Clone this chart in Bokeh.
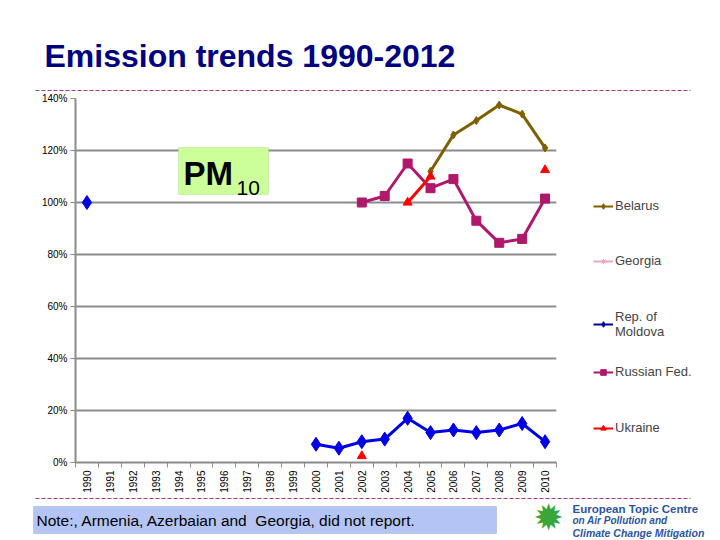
from math import pi

from bokeh.embed import file_html
from bokeh.layouts import column, row
from bokeh.models import (BoxAnnotation, FixedTicker, Label, Legend, LegendItem,
                          PrintfTickFormatter, Range1d)
from bokeh.plotting import figure
from bokeh.resources import INLINE

N = float("nan")

years = [1990, 1991, 1992, 1993, 1994, 1995, 1996, 1997, 1998, 1999,
         2000, 2001, 2002, 2003, 2004, 2005, 2006, 2007, 2008, 2009, 2010]

# emissions relative to the first reported year, in %
belarus = [N, N, N, N, N, N, N, N, N, N, N, N, N, N, N, 112, 126, 131.5, 137.5, 134, 121]
georgia = [N, N, N, N, N, N, N, N, N, N, N, N, N, N, N, N, N, N, N, N, N]
moldova = [100, N, N, N, N, N, N, N, N, N, 7, 5.5, 8, 9, 17, 11.5, 12.5, 11.5, 12.5, 15, 8]
russia = [N, N, N, N, N, N, N, N, N, N, N, N, 100, 102.5, 115, 105.5, 109, 93, 84.5, 86, 101.5]
ukraine = [N, N, N, N, N, N, N, N, N, N, N, N, 2.5, N, 100, 110, N, N, N, N, 112.5]

y_ticks = [0, 20, 40, 60, 80, 100, 120, 140]

FONT = "Liberation Sans"
GRID = "#8c8c8c"
DASH = "#9b3d8f"


def deco_fig(w, h):
    # plain canvas whose data units are pixels, y growing downwards
    f = figure(width=w, height=h, x_range=Range1d(0, w), y_range=Range1d(h, 0),
               output_backend="svg", toolbar_location=None, min_border=0,
               x_axis_type=None, y_axis_type=None)
    f.outline_line_color = None
    return f


# --- title strip (page y 0..92)
top = deco_fig(712, 92)
top.add_layout(Label(x=44, y=55, text="Emission trends 1990-2012", text_font=FONT,
                     text_font_style="bold", text_font_size="32px", text_color="#000080",
                     text_baseline="middle"))
top.segment(x0=[35], y0=[90], x1=[690], y1=[90], line_color=DASH, line_width=1, line_dash="4 2")

# --- chart (page y 92..495, x 0..560)
p = figure(x_range=Range1d(years[0] - 0.5, years[-1] + 0.5), y_range=Range1d(0, 140),
           width=560, height=403, output_backend="svg", toolbar_location=None,
           min_border_left=75, min_border_right=4, min_border_top=6, min_border_bottom=32)
p.outline_line_color = None
p.xgrid.visible = False
p.ygrid.grid_line_color = GRID
p.ygrid.grid_line_width = 2

p.yaxis.ticker = FixedTicker(ticks=y_ticks)
p.yaxis.formatter = PrintfTickFormatter(format="%d%%")
p.yaxis.minor_tick_line_color = None
# category labels in the middle, tick marks on the boundaries between years
p.xaxis.ticker = FixedTicker(ticks=years, minor_ticks=[y - 0.5 for y in years] + [years[-1] + 0.5])
p.xaxis.major_label_orientation = pi / 2
p.xaxis.major_tick_line_color = None
p.xaxis.minor_tick_line_color = GRID
p.xaxis.minor_tick_in = 0
p.xaxis.minor_tick_out = 5
for ax in (p.xaxis, p.yaxis):
    ax.axis_line_color = GRID
    ax.axis_line_width = 2
    ax.major_tick_in = 0
    ax.major_tick_out = 5
    ax.major_label_text_font = FONT
    ax.major_label_text_font_size = "10px"
    ax.major_label_text_color = "black"
    ax.major_label_standoff = 3
p.yaxis.major_tick_line_color = GRID

series = [
    ("Belarus", belarus, "#7f6000", "diamond", 8),
    ("Georgia", georgia, "#f2a0c4", "asterisk", 8),
    ("Rep. of\nMoldova", moldova, "#0000e6", "diamond", 14),
    ("Russian Fed.", russia, "#b0186b", "square", 9),
    ("Ukraine", ukraine, "#ff0000", "triangle", 9),
]
legend_color = {"Rep. of\nMoldova": "#000099"}

for name, vals, color, marker, size in series:
    p.line(years, vals, line_color=color, line_width=3)
    p.scatter(years, vals, marker=marker, size=size, fill_color=color,
              line_color=color, line_width=2 if marker == "asterisk" else 1)

# PM10 box (screen px from the frame's bottom-left corner)
p.add_layout(BoxAnnotation(left=103, right=193, top=315, bottom=268,
                           left_units="screen", right_units="screen",
                           top_units="screen", bottom_units="screen",
                           fill_color="#ccff99", fill_alpha=1, line_color="#99cc66", line_width=1))
p.add_layout(Label(x=108, y=271, x_units="screen", y_units="screen", text="PM",
                   text_font=FONT, text_font_style="bold", text_font_size="33px", text_color="black"))
p.add_layout(Label(x=161, y=268, x_units="screen", y_units="screen", text="10",
                   text_font=FONT, text_font_size="21px", text_color="black"))

# --- legend column (page x 560..712, y 92..495)
lf = deco_fig(152, 403)
legend_pos = [(33, 249), (33, 194), (33, 123), (33, 83), (33, 27)]
for (name, vals, color, marker, size), pos in zip(series, legend_pos):
    lc = legend_color.get(name, color)
    gl = lf.line([0], [N], line_color=lc, line_width=2)
    gs = lf.scatter([0], [N], marker=marker, size=min(size, 9), fill_color=lc, line_color=lc)
    lf.add_layout(Legend(items=[LegendItem(label=name, renderers=[gl, gs])],
                         location=pos, padding=0, margin=0, spacing=0,
                         border_line_color=None, background_fill_alpha=0,
                         glyph_width=20, glyph_height=14, label_height=14, label_standoff=2,
                         label_text_font=FONT, label_text_font_size="13px"))

# --- footer (page y 495..540)
foot = deco_fig(712, 45)
foot.segment(x0=[35], y0=[3], x1=[690], y1=[3], line_color=DASH, line_width=1, line_dash="4 2")
foot.add_layout(BoxAnnotation(left=33, right=496, top=11, bottom=38,
                              fill_color="#b4c4f4", fill_alpha=1, line_color="#7f8fb8", line_width=1))
foot.add_layout(Label(x=36, y=25, text="Note:, Armenia, Azerbaian and\u00a0 Georgia, did not report.",
                      text_font=FONT, text_font_size="15.5px", text_color="black",
                      text_baseline="middle"))
foot.add_layout(Label(x=548, y=22, text="\u2739", text_font="DejaVu Sans", text_font_size="36px",
                      text_color="#3aa63a", text_align="center", text_baseline="middle"))
logo_lines = [("European Topic Centre", "bold", "11.5px", 13),
              ("on Air Pollution and", "bold italic", "10px", 25),
              ("Climate Change Mitigation", "bold italic", "10.5px", 37)]
for txt, style, fs, yy in logo_lines:
    foot.add_layout(Label(x=572, y=yy, text=txt, text_font=FONT, text_font_style=style,
                          text_font_size=fs, text_color="#2a55a5", text_baseline="middle"))

page = column(top, row(p, lf), foot)
open("out.html", "w").write(file_html(page, INLINE))
